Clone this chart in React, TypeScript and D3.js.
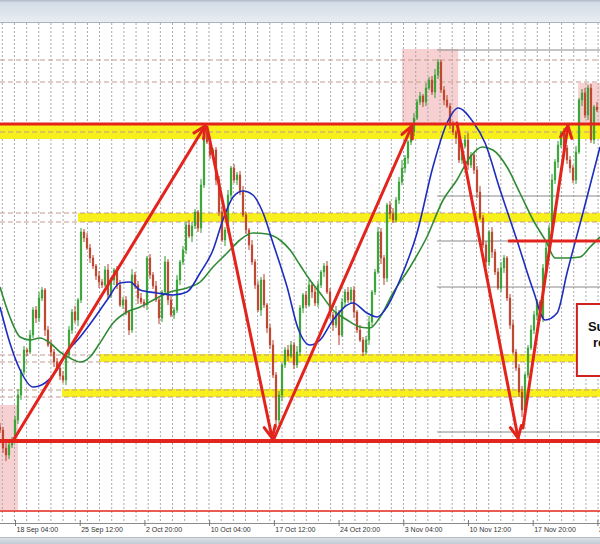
import React from "react";
import * as d3 from "d3";

// ---- price data (4h candles, sampled) ----
const closes = [
  1.0461, 1.0443, 1.0436, 1.0446, 1.0451, 1.0471, 1.0496, 1.0519, 1.0541, 1.0539,
  1.0556, 1.0581, 1.0573, 1.0593, 1.0601, 1.0561, 1.0546, 1.0539, 1.0529, 1.0523,
  1.0515, 1.0511, 1.0536, 1.0561, 1.0579, 1.0571, 1.0591, 1.0659, 1.0653, 1.0643,
  1.0633, 1.0625, 1.0615, 1.0609, 1.0606, 1.0621, 1.0596, 1.0611, 1.0621, 1.0606,
  1.0586, 1.0591, 1.0579, 1.0561, 1.0616, 1.0606, 1.0593, 1.0589, 1.0586, 1.0633,
  1.0616, 1.0605, 1.0591, 1.0573, 1.0599, 1.0629, 1.0591, 1.0576, 1.0581, 1.0611,
  1.0629, 1.0641, 1.0666, 1.0655, 1.0665, 1.0679, 1.0663, 1.0706, 1.0759, 1.0749,
  1.0736, 1.0741, 1.0711, 1.0679, 1.0651, 1.0661, 1.0696, 1.0723, 1.0711, 1.0716,
  1.0699, 1.0676, 1.0661, 1.0646, 1.0629, 1.0606, 1.0581, 1.0611, 1.0586, 1.0563,
  1.0546, 1.0516, 1.0471, 1.0496, 1.0526, 1.0541, 1.0535, 1.0546, 1.0526, 1.0539,
  1.0583, 1.0596, 1.0586, 1.0606, 1.0599, 1.0588, 1.0606, 1.0619, 1.0625, 1.0599,
  1.0576, 1.0566, 1.0579, 1.0556, 1.0589, 1.0599, 1.0591, 1.0601, 1.0579, 1.0561,
  1.0551, 1.0539, 1.0551, 1.0569, 1.0599, 1.0619, 1.0659, 1.0633, 1.0613, 1.0686,
  1.0677, 1.0671, 1.0691, 1.0709, 1.0723, 1.0733, 1.0749, 1.0759, 1.0773, 1.0789,
  1.0795, 1.0789, 1.0803, 1.0811, 1.0799, 1.0816, 1.0829, 1.0801, 1.0791, 1.0785,
  1.0766, 1.0759, 1.0753, 1.0731, 1.0745, 1.0751, 1.0726, 1.0736, 1.0721, 1.0699,
  1.0673, 1.0646, 1.0629, 1.0659, 1.0639, 1.0619, 1.0603, 1.0623, 1.0633, 1.0593,
  1.0566, 1.0539, 1.0523, 1.0499, 1.0481, 1.0516, 1.0543, 1.0561, 1.0576, 1.0589,
  1.0573, 1.0623, 1.0643, 1.0663, 1.0711, 1.0729, 1.0746, 1.0758, 1.0743, 1.0731,
  1.0723, 1.0711, 1.0739, 1.0791, 1.0798, 1.0776, 1.0803, 1.0751, 1.0784, 1.0781,
];
// wick lengths in pips above / below the body
const hiWick = [
  4,3,5,2,3,4,6,3,4,2,5,3,4,6,3,2,4,5,3,4,
  3,5,2,4,3,6,2,4,3,5,4,3,2,5,3,4,6,3,2,4,
  5,3,4,2,6,3,4,5,3,2,4,3,5,4,2,6,3,4,3,5,
  2,4,3,5,4,3,2,6,3,4,5,2,3,4,6,3,5,2,4,3,
  4,6,3,2,5,3,4,3,6,2,4,5,3,4,2,3,5,4,3,6,
  3,2,4,5,3,6,4,2,3,5,4,3,6,2,4,3,5,3,4,2,
  5,3,4,6,2,3,5,4,3,2,4,6,3,5,8,3,2,4,5,3,
  4,2,5,3,4,6,3,2,4,5,3,4,2,6,3,5,7,3,2,4,
  6,3,4,2,5,3,4,6,3,2,4,5,3,4,6,2,3,5,4,3,
  2,4,5,3,6,3,4,2,5,3,4,3,6,2,4,5,3,4,2,5,
];
const loWick = [
  3,5,6,4,3,2,4,5,3,4,2,3,5,4,3,6,2,4,5,3,
  4,3,5,2,4,3,6,3,4,2,5,3,4,6,3,2,4,3,5,4,
  2,4,3,5,3,4,6,2,3,5,4,3,2,6,4,3,5,2,4,3,
  5,3,4,2,6,3,4,5,3,2,4,3,5,4,2,6,3,4,3,5,
  3,2,4,5,3,4,2,6,3,5,4,3,8,4,6,3,5,2,4,3,
  4,5,3,2,6,3,4,3,5,2,4,6,3,10,2,5,3,4,6,3,
  2,4,3,5,4,3,2,6,7,4,5,3,2,4,3,5,6,3,4,2,
  3,5,4,2,3,6,4,3,5,2,4,3,6,3,4,2,5,3,4,6,
  2,3,5,4,6,3,2,4,5,3,4,2,3,5,7,6,3,2,4,5,
  3,4,2,5,3,4,6,3,2,4,5,3,4,2,6,3,5,3,4,2,
];

// moving averages: [sample index, price]
const blueMA: [number, number][] = [
  [0, 1.0584], [3.3, 1.0548], [6.7, 1.0521], [11, 1.0504], [15, 1.0508], [18.3, 1.0518],
  [22.3, 1.0539], [26.7, 1.0554], [31, 1.0571], [35.7, 1.0591], [40, 1.0608], [43.3, 1.0609],
  [46.7, 1.0601], [52.3, 1.0598], [57.7, 1.0596], [62.3, 1.0599], [66.7, 1.0618], [71, 1.0641],
  [74.3, 1.0671], [77.7, 1.0694], [81, 1.07], [84.3, 1.0696], [87.7, 1.0678], [91, 1.0648],
  [95.7, 1.0604], [99.3, 1.0563], [103.3, 1.0546], [106.7, 1.0551], [111, 1.0571], [117.7, 1.0588],
  [122.3, 1.0578], [125.7, 1.0574], [129, 1.0584], [133.3, 1.0611], [139, 1.0658], [144.3, 1.0724],
  [149, 1.0768], [152.7, 1.0783], [157.7, 1.0769], [161.7, 1.0748], [166.7, 1.0701], [172.3, 1.0651],
  [177.7, 1.0601], [181.7, 1.0571], [185.7, 1.0578], [189, 1.0618], [194.3, 1.0678], [200, 1.0744],
];
const greenMA: [number, number][] = [
  [0, 1.0604], [3.3, 1.0574], [6.7, 1.0554], [10, 1.0551], [13.3, 1.0553], [16.7, 1.0548],
  [20, 1.0539], [23.3, 1.0533], [26.7, 1.0529], [30, 1.0534], [33.3, 1.0548], [37.7, 1.0568],
  [42.3, 1.0579], [46.7, 1.0584], [52.3, 1.0593], [56.7, 1.0599], [62.3, 1.0603], [66.7, 1.0609],
  [71, 1.0624], [75.7, 1.0638], [80, 1.0651], [84.3, 1.0658], [89, 1.0657], [93.3, 1.0651],
  [96.7, 1.0641], [100, 1.0626], [103.3, 1.0611], [106.7, 1.0598], [111, 1.0581], [115.7, 1.0571],
  [120, 1.0564], [123.3, 1.0563], [126.7, 1.0574], [131, 1.0598], [136.7, 1.0624], [142.3, 1.0654],
  [147.7, 1.0691], [152.3, 1.0711], [156.7, 1.0734], [160.7, 1.0744], [164.3, 1.0741], [169, 1.0724],
  [173.3, 1.0698], [177.7, 1.0671], [182.3, 1.0648], [185, 1.0633], [189, 1.0633], [193.3, 1.0634],
  [196.7, 1.0644], [200, 1.0654],
];

const tickLabels = [
  "18 Sep 04:00", "25 Sep 12:00", "2 Oct 20:00", "10 Oct 04:00", "17 Oct 12:00",
  "24 Oct 20:00", "3 Nov 04:00", "10 Nov 12:00", "17 Nov 20:00", "25 Nov 04:00",
];

// drawn levels
const rangeTop = 1.0767;
const rangeBottom = 1.045;
const midLevel = 1.065;
const midLevelStart = 169.3;
const lowerEdge = 1.038;
const yellowBands = [
  { from: 0, to: 200, lo: 1.0752, hi: 1.0767 },
  { from: 26, to: 200, lo: 1.0669, hi: 1.0678 },
  { from: 33.3, to: 192, lo: 1.0529, hi: 1.0537 },
  { from: 20.7, to: 200, lo: 1.0494, hi: 1.0502 },
];
const dashedLevels = [1.0831, 1.0809, 1.0759, 1.0678, 1.0669, 1.0536, 1.0529, 1.0501, 1.0494];
const fibLevels = [1.0841, 1.0695, 1.065, 1.0604, 1.0459];
const fibStart = 145.7;
const pinkBoxes = [
  { from: 0, to: 6, lo: 1.0381, hi: 1.0486 },
  { from: 134, to: 152.7, lo: 1.0767, hi: 1.0842 },
  { from: 192.7, to: 200, lo: 1.0767, hi: 1.0808 },
];
const arrows = [
  { i0: 4.3, p0: 1.045, i1: 68.3, p1: 1.0765 },
  { i0: 69, p0: 1.0764, i1: 90.7, p1: 1.0453 },
  { i0: 91, p0: 1.045, i1: 137.3, p1: 1.0765 },
  { i0: 152.3, p0: 1.0768, i1: 172.7, p1: 1.0453 },
  { i0: 174.3, p0: 1.0463, i1: 189.3, p1: 1.0765 },
];
const note = { i: 192.3, top: 1.0587, bottom: 1.0515, lines: ["Support", "resistance"] };

export default function App() {
  const W = 600, H = 544;
  const x = d3.scaleLinear().domain([0, 200]).range([0, 600]);
  const y = d3.scaleLinear().domain([1.0347, 1.0891]).range([544, 0]);
  const plotTop = 23, axisY = 523;

  const candles = closes.map((c, i) => {
    const o = i > 0 ? closes[i - 1] : c + 0.0003;
    const hi = Math.max(o, c) + hiWick[i] / 10000;
    const lo = Math.min(o, c) - loWick[i] / 10000;
    return { i, o, c, hi, lo, up: c >= o };
  });

  const line = d3.line<[number, number]>().x((d) => x(d[0])).y((d) => y(d[1])).curve(d3.curveMonotoneX);

  const gridStep = 4.053, gridOffset = 0.767;
  const grid = d3.range(0, 50).map((k) => gridOffset + k * gridStep);
  const tickFirst = 5.17, tickStep = 21.57;

  const red = "#e3241c";

  const arrowHead = (a: typeof arrows[0]) => {
    const x0 = x(a.i0), y0 = y(a.p0), x1 = x(a.i1), y1 = y(a.p1);
    const ang = Math.atan2(y1 - y0, x1 - x0);
    const L = 13, s = 0.45;
    const p1 = [x1 - L * Math.cos(ang - s), y1 - L * Math.sin(ang - s)];
    const p2 = [x1 - L * Math.cos(ang + s), y1 - L * Math.sin(ang + s)];
    return `M${p1[0]},${p1[1]}L${x1},${y1}L${p2[0]},${p2[1]}`;
  };

  return (
    <svg width={W} height={H} style={{ position: "fixed", left: 0, top: 0, background: "#fff" }}
      fontFamily="'Liberation Sans', Arial, sans-serif">
      <defs>
        <linearGradient id="tb" x1="0" y1="0" x2="0" y2="1">
          <stop offset="0" stopColor="#aeb9c6" />
          <stop offset="0.12" stopColor="#d3dce6" />
          <stop offset="1" stopColor="#e7edf3" />
        </linearGradient>
        <linearGradient id="bb" x1="0" y1="0" x2="0" y2="1">
          <stop offset="0" stopColor="#dfe4ea" />
          <stop offset="1" stopColor="#c3cad3" />
        </linearGradient>
        <clipPath id="plot"><rect x={0} y={plotTop} width={W} height={axisY - plotTop} /></clipPath>
      </defs>
      <rect x={0} y={0} width={W} height={H} fill="#fff" />
      {/* toolbar */}
      <rect x={0} y={0} width={W} height={plotTop - 1} fill="url(#tb)" />
      <line x1={0} x2={W} y1={plotTop - 0.5} y2={plotTop - 0.5} stroke="#a9b4c1" />

      <g clipPath="url(#plot)">
        {pinkBoxes.map((b, k) => (
          <rect key={k} x={x(b.from)} width={x(b.to) - x(b.from)} y={y(b.hi)} height={y(b.lo) - y(b.hi)}
            fill="#f3b9b9" opacity={0.65} />
        ))}
        {grid.map((g, k) => (
          <line key={k} x1={x(g)} x2={x(g)} y1={plotTop} y2={axisY} stroke="#a8a8a8" strokeDasharray="2,2" strokeWidth={1} />
        ))}
        {yellowBands.map((b, k) => (
          <rect key={k} x={x(b.from)} width={x(b.to) - x(b.from)} y={y(b.hi)} height={y(b.lo) - y(b.hi)} fill="#f8f01c" />
        ))}
        {dashedLevels.map((p, k) => (
          <line key={k} x1={0} x2={W} y1={y(p)} y2={y(p)} stroke="#c49a92" strokeDasharray="5,3" strokeWidth={1} />
        ))}
        {fibLevels.map((p, k) => (
          <line key={k} x1={x(fibStart)} x2={W} y1={y(p)} y2={y(p)} stroke="#8a8a8a" strokeWidth={1} />
        ))}
        {candles.map((d) => (
          <g key={d.i} stroke={d.up ? "#2f9a2f" : "#b8402a"}>
            <line x1={x(d.i)} x2={x(d.i)} y1={y(d.hi)} y2={y(d.lo)} strokeWidth={1} />
            <rect x={x(d.i) - 0.9} width={1.8} y={y(Math.max(d.o, d.c))}
              height={Math.max(0.8, Math.abs(y(d.o) - y(d.c)))} fill={d.up ? "#3aa83a" : "#c0452e"} strokeWidth={0.4} />
          </g>
        ))}
        <path d={line(greenMA) || ""} fill="none" stroke="#2e8b34" strokeWidth={1.6} />
        <path d={line(blueMA) || ""} fill="none" stroke="#1d2dbf" strokeWidth={1.6} />

        <line x1={0} x2={W} y1={y(rangeTop)} y2={y(rangeTop)} stroke={red} strokeWidth={3.2} />
        <line x1={0} x2={W} y1={y(rangeBottom)} y2={y(rangeBottom)} stroke={red} strokeWidth={4} />
        <line x1={x(midLevelStart)} x2={W} y1={y(midLevel)} y2={y(midLevel)} stroke={red} strokeWidth={3} />
        <line x1={0} x2={W} y1={y(lowerEdge)} y2={y(lowerEdge)} stroke={red} strokeWidth={1.3} />

        {arrows.map((a, k) => (
          <g key={k} stroke={red} strokeWidth={3} fill="none" strokeLinecap="round" strokeLinejoin="round">
            <line x1={x(a.i0)} y1={y(a.p0)} x2={x(a.i1)} y2={y(a.p1)} />
            <path d={arrowHead(a)} />
          </g>
        ))}

        <rect x={x(note.i)} y={y(note.top)} width={80} height={y(note.bottom) - y(note.top)}
          fill="#fff" stroke="#cf2020" strokeWidth={2} />
        <text x={x(note.i) + 11} y={y(note.top) + 27} fontSize={13} fontWeight="bold" fill="#111">{note.lines[0]}</text>
        <text x={x(note.i) + 16} y={y(note.top) + 43} fontSize={13} fontWeight="bold" fill="#111">{note.lines[1]}</text>
      </g>

      {/* time axis */}
      <line x1={0} x2={W} y1={axisY + 0.5} y2={axisY + 0.5} stroke="#8c8c8c" />
      {tickLabels.map((t, k) => {
        const tx = x(tickFirst + k * tickStep);
        return (
          <g key={k}>
            <line x1={tx} x2={tx} y1={axisY - 3} y2={axisY + 3} stroke="#777" />
            <text x={tx + 1} y={532} fontSize={7} fill="#333">{t}</text>
          </g>
        );
      })}
      <rect x={0} y={537} width={W} height={H - 537} fill="url(#bb)" />
      <line x1={0} x2={W} y1={537.5} y2={537.5} stroke="#b5bdc7" />
    </svg>
  );
}
